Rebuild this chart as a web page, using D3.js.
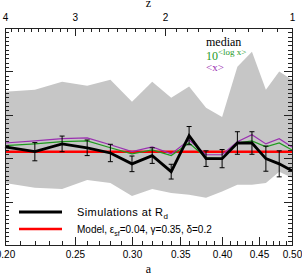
<!DOCTYPE html>
<meta charset="utf-8">
<style>
  body {
    margin: 0;
    background: #fff;
  }

  .axis path,
  .axis line {
    fill: none;
    stroke: #222;
    stroke-width: 1;
    shape-rendering: crispEdges;
  }

  .axis text {
    font-family: 'Liberation Sans', Arial, sans-serif;
    font-size: 10px;
    fill: #000;
  }

  .serif {
    font-family: 'Liberation Serif', 'Times New Roman', serif;
  }

  .legend {
    font-family: 'Liberation Sans', Arial, sans-serif;
    font-size: 11px;
  }
</style>

<body>
  <div id="chart"></div>
  <script src="https://d3js.org/d3.v7.min.js"></script>

  <script>
    // data (y values are on an unlabelled axis, one major tick = 1)
    var aValues = [0.20, 0.22, 0.24, 0.26, 0.28, 0.30, 0.32, 0.34, 0.36, 0.38, 0.40, 0.42, 0.44, 0.46, 0.48, 0.50];
    var simMedian = [-0.74, -0.85, -0.67, -0.76, -0.88, -1.13, -0.94, -1.31, -0.48, -1.01, -1.01, -0.65, -0.65, -1.01, -1.13, -1.29];
    var simLogMean = [-0.71, -0.67, -0.62, -0.60, -0.76, -0.90, -0.81, -0.94, -0.65, -0.99, -1.01, -0.65, -0.60, -0.74, -0.65, -0.81];
    var simMean = [-0.65, -0.60, -0.55, -0.53, -0.69, -0.85, -0.74, -0.90, -0.58, -0.92, -0.92, -0.62, -0.46, -0.67, -0.55, -0.74];
    var simErr = [null, 0.21, 0.18, 0.18, 0.20, 0.18, 0.18, 0.17, 0.21, 0.18, 0.21, 0.26, 0.26, 0.29, 0.30, null];
    var bandHigh = [0.53, 0.58, 0.76, 0.67, 0.81, 0.30, 0.76, 0.39, 0.65, 0.16, -0.05, 1.11, 1.45, 0.58, 1.0, 0.81];
    var bandLow = [-1.57, -1.68, -1.71, -1.50, -1.57, -1.87, -1.71, -1.80, -1.84, -1.91, -1.77, -1.61, -1.61, -1.57, -1.31, -1.45];
    var modelValue = -0.85;

    var aTicks = [0.20, 0.25, 0.30, 0.35, 0.40, 0.45, 0.50];
    var zTicks = [4, 3, 2, 1];
    var yTicks = [-3, -2, -1, 0, 1, 2];

    var width = 302,
      height = 275,
      margin = { top: 28, right: 10, bottom: 30, left: 5 };

    var svg = d3.select('#chart')
      .append('svg')
      .attr('width', width)
      .attr('height', height);

    var x = d3.scaleLog().domain([0.2, 0.5]).range([margin.left, width - margin.right]);
    // top axis: 1+z on the same log scale (a = 1/(1+z))
    var zp1 = d3.scaleLog().domain([5, 2]).range([margin.left, width - margin.right]);
    var y = d3.scaleLinear().domain([-3, 2]).range([height - margin.bottom, margin.top]);

    var x0 = margin.left, x1 = width - margin.right;
    var y0 = height - margin.bottom, y1 = margin.top;

    var pts = aValues.map((a, i) => ({
      a: a, med: simMedian[i], logm: simLogMean[i], mean: simMean[i],
      err: simErr[i], hi: bandHigh[i], lo: bandLow[i]
    }));

    // grey scatter band
    svg.append('path')
      .datum(pts)
      .attr('fill', '#c6c6c6')
      .attr('d', d3.area().x(d => x(d.a)).y0(d => y(d.lo)).y1(d => y(d.hi)));

    // model line
    svg.append('path')
      .datum(x.domain())
      .attr('fill', 'none')
      .attr('stroke', '#ff0000')
      .attr('stroke-width', 2.5)
      .attr('d', d3.line().x(d => x(d)).y(() => y(modelValue)));

    // 10^<log x> and <x>
    svg.append('path')
      .datum(pts)
      .attr('fill', 'none')
      .attr('stroke', '#1f9a1f')
      .attr('stroke-width', 1.2)
      .attr('d', d3.line().x(d => x(d.a)).y(d => y(d.logm)));

    svg.append('path')
      .datum(pts)
      .attr('fill', 'none')
      .attr('stroke', '#9a2fb0')
      .attr('stroke-width', 1.2)
      .attr('d', d3.line().x(d => x(d.a)).y(d => y(d.mean)));

    // error bars
    var eb = svg.selectAll('.err')
      .data(pts.filter(d => d.err != null))
      .enter().append('g')
      .attr('class', 'err')
      .attr('stroke', '#000')
      .attr('stroke-width', 1);
    eb.append('line')
      .attr('x1', d => x(d.a)).attr('x2', d => x(d.a))
      .attr('y1', d => y(d.med - d.err)).attr('y2', d => y(d.med + d.err));
    eb.append('line')
      .attr('x1', d => x(d.a) - 2.5).attr('x2', d => x(d.a) + 2.5)
      .attr('y1', d => y(d.med + d.err)).attr('y2', d => y(d.med + d.err));
    eb.append('line')
      .attr('x1', d => x(d.a) - 2.5).attr('x2', d => x(d.a) + 2.5)
      .attr('y1', d => y(d.med - d.err)).attr('y2', d => y(d.med - d.err));

    // median line
    svg.append('path')
      .datum(pts)
      .attr('fill', 'none')
      .attr('stroke', '#000')
      .attr('stroke-width', 2.8)
      .attr('stroke-linejoin', 'miter')
      .attr('d', d3.line().x(d => x(d.a)).y(d => y(d.med)));

    // minor tick values
    var aMinor = d3.range(21, 50).map(d => d / 100).filter(d => Math.round(d * 100) % 5 != 0);
    var zMinor = d3.range(11, 40).filter(d => d % 10 != 0).map(d => 1 + d / 10);
    var yMinor = d3.range(-30, 21).filter(d => d % 10 != 0).map(d => d / 10);

    // bottom axis (ticks point inwards)
    svg.append('g').attr('class', 'axis')
      .attr('transform', `translate(0,${y0})`)
      .call(d3.axisBottom(x).tickValues(aMinor).tickSizeInner(-4).tickSizeOuter(0).tickFormat(''));
    svg.append('g').attr('class', 'axis')
      .attr('transform', `translate(0,${y0})`)
      .call(d3.axisBottom(x).tickValues(aTicks).tickSizeInner(-8).tickSizeOuter(0)
        .tickPadding(6).tickFormat(d3.format('.2f')));

    // top axis in z
    svg.append('g').attr('class', 'axis')
      .attr('transform', `translate(0,${y1})`)
      .call(d3.axisTop(zp1).tickValues(zMinor).tickSizeInner(-4).tickSizeOuter(0).tickFormat(''));
    svg.append('g').attr('class', 'axis')
      .attr('transform', `translate(0,${y1})`)
      .call(d3.axisTop(zp1).tickValues(zTicks.map(z => z + 1)).tickSizeInner(-8).tickSizeOuter(0)
        .tickPadding(7).tickFormat(d => d - 1));

    // left and right axes, no labels
    [[d3.axisLeft, x0], [d3.axisRight, x1]].forEach(function(p) {
      svg.append('g').attr('class', 'axis')
        .attr('transform', `translate(${p[1]},0)`)
        .call(p[0](y).tickValues(yMinor).tickSizeInner(-4).tickSizeOuter(0).tickFormat(''));
      svg.append('g').attr('class', 'axis')
        .attr('transform', `translate(${p[1]},0)`)
        .call(p[0](y).tickValues(yTicks).tickSizeInner(-8).tickSizeOuter(0).tickFormat(''));
    });

    // axis titles
    svg.append('text').attr('class', 'serif')
      .attr('x', (x0 + x1) / 2).attr('y', 7)
      .attr('text-anchor', 'middle').style('font-size', '12px')
      .text('z');
    svg.append('text').attr('class', 'serif')
      .attr('x', (x0 + x1) / 2).attr('y', 273)
      .attr('text-anchor', 'middle').style('font-size', '12px')
      .text('a');

    // labels top right
    svg.append('text').attr('class', 'serif')
      .attr('x', 206).attr('y', 46).style('font-size', '12px').attr('fill', '#000')
      .text('median');
    var tl = svg.append('text').attr('class', 'serif')
      .attr('x', 206).attr('y', 60).style('font-size', '12px').attr('fill', '#1f9a1f');
    tl.append('tspan').text('10');
    tl.append('tspan').attr('dy', -5).style('font-size', '9px').text('<log x>');
    svg.append('text').attr('class', 'serif')
      .attr('x', 206).attr('y', 71).style('font-size', '11px').attr('fill', '#9a2fb0')
      .text('<x>');

    // legend
    svg.append('line').attr('x1', 19).attr('x2', 62).attr('y1', 212).attr('y2', 212)
      .attr('stroke', '#000').attr('stroke-width', 2.8);
    svg.append('line').attr('x1', 19).attr('x2', 62).attr('y1', 229).attr('y2', 229)
      .attr('stroke', '#ff0000').attr('stroke-width', 2.5);

    var l1 = svg.append('text').attr('class', 'legend').attr('x', 77).attr('y', 216);
    l1.append('tspan').attr('textLength', 86).attr('lengthAdjust', 'spacing').text('Simulations at R');
    l1.append('tspan').attr('dy', 3).style('font-size', '8px').text('d');

    var l2 = svg.append('text').attr('class', 'legend').attr('x', 77).attr('y', 233)
      .style('font-size', '10px');
    l2.append('tspan').text('Model, ε');
    l2.append('tspan').attr('dy', 3).style('font-size', '7px').text('sf');
    l2.append('tspan').attr('dy', -3).text('=0.04, γ=0.35, δ=0.2');
  </script>
</body>
